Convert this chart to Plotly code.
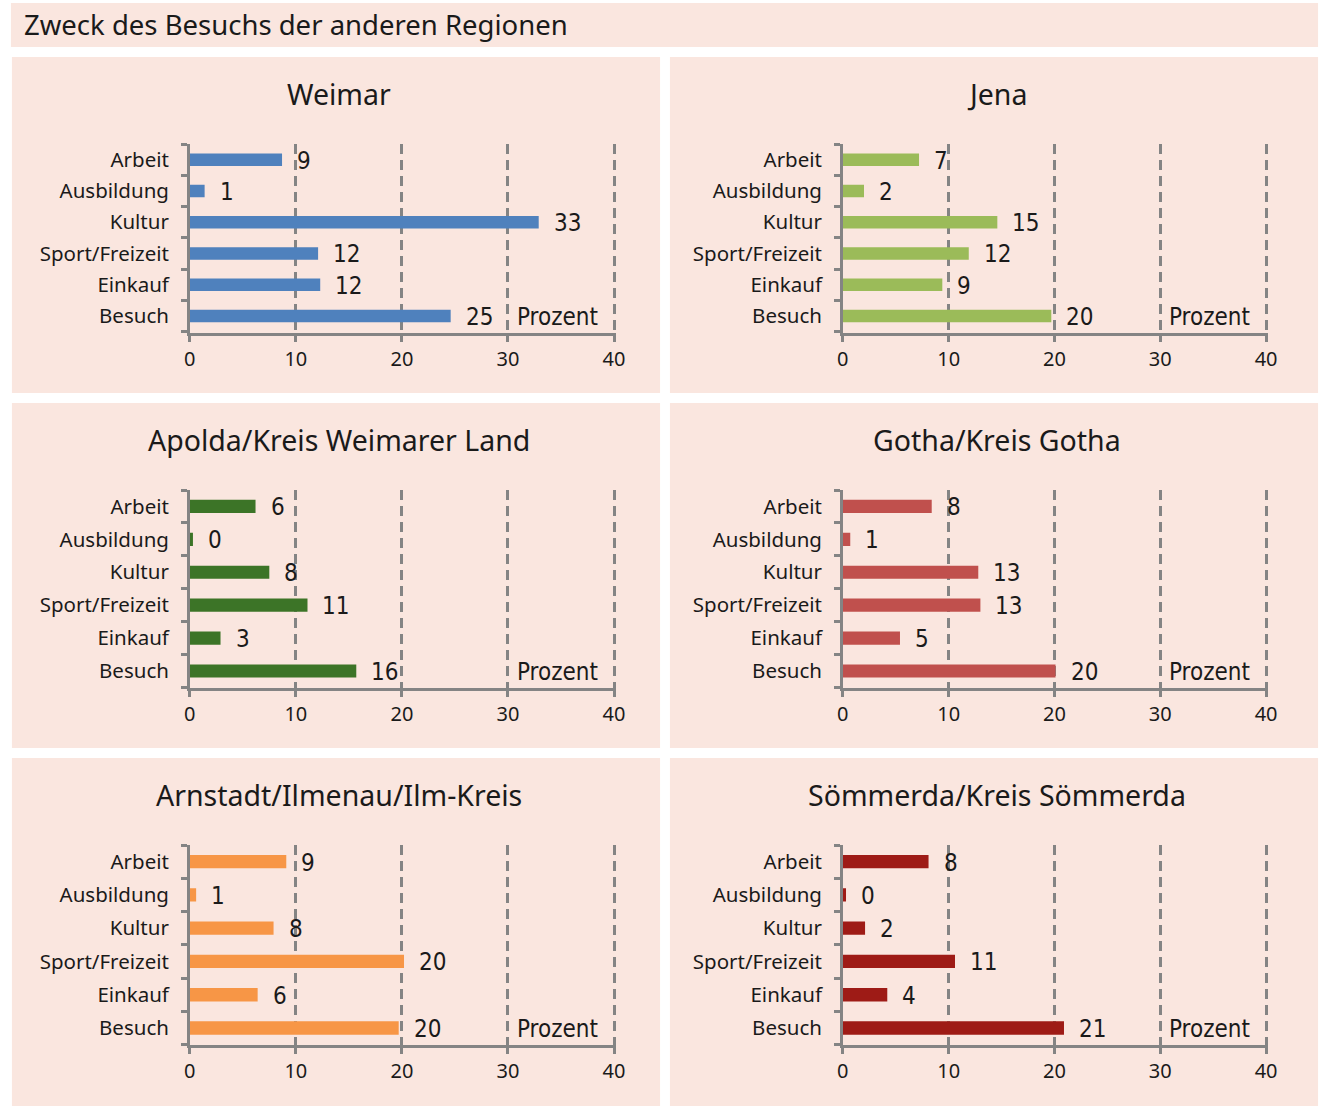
import plotly.graph_objects as go

W, H = 1334, 1106

categories = ["Arbeit", "Ausbildung", "Kultur", "Sport/Freizeit", "Einkauf", "Besuch"]

panel_titles = ["Weimar", "Jena", "Apolda/Kreis Weimarer Land", "Gotha/Kreis Gotha",
                "Arnstadt/Ilmenau/Ilm-Kreis", "Sömmerda/Kreis Sömmerda"]

weimar = [8.7, 1.4, 32.9, 12.1, 12.3, 24.6]
jena = [7.2, 2.0, 14.6, 11.9, 9.4, 19.7]
apolda = [6.2, 0.3, 7.5, 11.1, 2.9, 15.7]
gotha = [8.4, 0.7, 12.8, 13.0, 5.4, 20.1]
arnstadt = [9.1, 0.6, 7.9, 20.2, 6.4, 19.7]
soemmerda = [8.1, 0.3, 2.1, 10.6, 4.2, 20.9]

x_ticks = [0, 10, 20, 30, 40]
unit_label = "Prozent"
main_title = "Zweck des Besuchs der anderen Regionen"

series = [weimar, jena, apolda, gotha, arnstadt, soemmerda]
colors = ["#4F81BD", "#9BBB59", "#3C7427", "#C0504D", "#F79646", "#9E1B16"]

PINK = "#FAE6DF"
GRID = "#848484"
TXT = "#1a1a1a"
DASH = "10px,6px"
LABEL_FONT = "DejaVu Sans Condensed, Liberation Sans Narrow, Noto Sans, sans-serif"
CAT_FONT = "Noto Sans, Open Sans, sans-serif"


def px(x):
    return x / W


def py(y):
    return 1 - y / H


# plot area pixel boxes
cols = [(186, 617), (847, 1277)]
rows = [(144, 333), (490, 688), (845, 1045)]
panel_cols = [(6, 662), (672, 1328)]
panel_rows = [(57, 393), (403, 748), (758, 1106)]
title_y = [94, 440, 795]

fig = go.Figure()
shapes = []
annotations = []

# title band
shapes.append(dict(type="rect", xref="paper", yref="paper", x0=px(5), x1=px(1328),
                   y0=py(47), y1=py(3), fillcolor=PINK, line_width=0, layer="below"))
annotations.append(dict(text=main_title, xref="paper", yref="paper", x=px(16), y=py(25),
                        xanchor="left", yanchor="middle", showarrow=False,
                        font=dict(family=CAT_FONT, size=27.5, color=TXT)))

layout_axes = {}
for i, (vals, col, title) in enumerate(zip(series, colors, panel_titles)):
    r, c = divmod(i, 2)
    n = i + 1
    xa = "x" if n == 1 else f"x{n}"
    ya = "y" if n == 1 else f"y{n}"
    xl, xr = cols[c]
    yt, yb = rows[r]
    pl, pr = panel_cols[c]
    pt, pb = panel_rows[r]
    shapes.append(dict(type="rect", xref="paper", yref="paper", x0=px(pl), x1=px(pr),
                       y0=py(pb), y1=py(pt), fillcolor=PINK, line_width=0, layer="below"))
    annotations.append(dict(text=title, xref="paper", yref="paper", x=px((pl + pr) / 2 + 3),
                            y=py(title_y[r]), xanchor="center", yanchor="middle",
                            showarrow=False, font=dict(family=CAT_FONT, size=28.5, color=TXT)))
    fig.add_trace(go.Bar(x=vals, y=categories, orientation="h", marker=dict(color=col, line_width=0),
                         xaxis=xa, yaxis=ya, showlegend=False, hoverinfo="x+y"))
    for v, cat in zip(vals, categories):
        annotations.append(dict(text=f"{v:.0f}", x=v, y=cat, xref=xa, yref=ya,
                                xanchor="left", yanchor="middle", xshift=13, yshift=-1,
                                showarrow=False,
                                font=dict(family=LABEL_FONT, size=24, color=TXT)))
    annotations.append(dict(text=unit_label, x=38.7, y=categories[-1], xref=xa, yref=ya,
                            xanchor="right", yanchor="middle", yshift=-1, showarrow=False,
                            font=dict(family=LABEL_FONT, size=24, color=TXT)))
    xkey = "xaxis" if n == 1 else f"xaxis{n}"
    ykey = "yaxis" if n == 1 else f"yaxis{n}"
    layout_axes[xkey] = dict(domain=[px(xl), px(xr)], anchor=ya, range=[0, 40.15],
                             tickvals=x_ticks, showgrid=True, gridcolor=GRID, gridwidth=2.5,
                             griddash=DASH, zeroline=False, showline=True,
                             linecolor=GRID, linewidth=2.5, ticks="outside", ticklen=6,
                             tickwidth=2.5, tickcolor=GRID,
                             tickfont=dict(family=CAT_FONT, size=20, color=TXT),
                             fixedrange=True)
    layout_axes[ykey] = dict(domain=[py(yb), py(yt)], anchor=xa, type="category",
                             categoryorder="array", categoryarray=categories[::-1],
                             tickson="boundaries", showgrid=False, zeroline=False,
                             showline=True, linecolor=GRID, linewidth=2.5, ticks="outside",
                             ticklen=6, tickwidth=2.5, tickcolor=GRID, ticklabelstandoff=14,
                             tickfont=dict(family=CAT_FONT, size=20.5, color=TXT),
                             fixedrange=True)

fig.update_layout(width=W, height=H, autosize=False, margin=dict(l=0, r=0, t=0, b=0),
                  paper_bgcolor="white", plot_bgcolor="white", bargap=0.6,
                  shapes=shapes, annotations=annotations, **layout_axes)

fig.write_html("out.html", config={"displayModeBar": False, "responsive": False},
               post_script="document.body.style.margin='0';document.body.style.overflow='hidden';")
